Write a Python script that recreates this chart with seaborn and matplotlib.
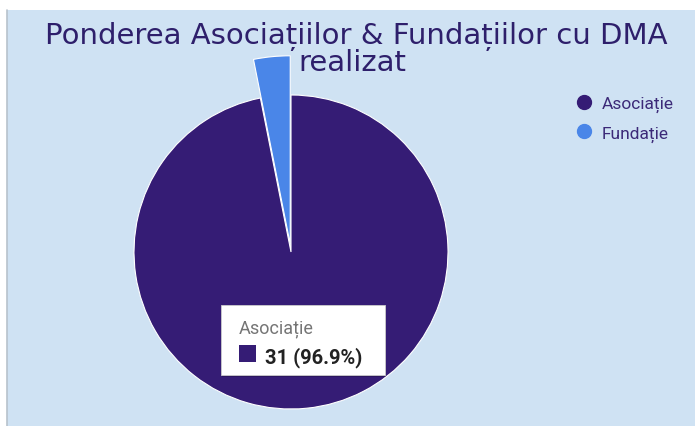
import matplotlib
matplotlib.use("Agg")
import matplotlib.pyplot as plt
import seaborn as sns
from matplotlib.patches import Rectangle
from matplotlib.lines import Line2D

# data
labels = ["Asociație", "Fundație"]
counts = [31, 1]
colors = ["#351c75", "#4a86e8"]
title_lines = ["Ponderea Asociațiilor & Fundațiilor cu DMA", "realizat"]

sns.set_theme(style="white")
pal = sns.color_palette(colors)
plt.rcParams["font.family"] = ["DejaVu Sans"]

W, H = 695, 427
fig = plt.figure(figsize=(W / 100, H / 100), dpi=100, facecolor="white")

def fx(px):
    return px / W

def fy(py):
    return 1 - py / H

# chart background (white strip top/left like the screenshot)
fig.patches.append(Rectangle((fx(7), 0), 1 - fx(7), fy(11), transform=fig.transFigure,
                             facecolor="#cfe2f3", edgecolor="none", zorder=-2))
fig.lines.append(Line2D([fx(7), fx(7)], [0, fy(11)], transform=fig.transFigure,
                        color="#b8c2cc", lw=1.2, zorder=-1))

# pie axes: centre (291, 253) px, radius 157 px
R = 157
lim = 1.3
side = 2 * lim * R
cx, cy = 291, 253
ax = fig.add_axes([fx(cx - side / 2), fy(cy + side / 2), side / W, side / H])
ax.patch.set_alpha(0)

wedges, _ = ax.pie(counts, colors=pal, startangle=90, counterclock=False,
                   explode=[0, 0.05], radius=1,
                   wedgeprops=dict(edgecolor="white", linewidth=0.8))
wedges[1].set_radius(1.2)
ax.set_xlim(-lim, lim)
ax.set_ylim(-lim, lim)
ax.set_aspect("equal")
ax.axis("off")

# title
fig.text(fx(356), fy(44), title_lines[0], ha="center", va="baseline",
         fontsize=21, color="#2e1f6b")
fig.text(fx(352), fy(71), title_lines[1], ha="center", va="baseline",
         fontsize=21, color="#2e1f6b")

# legend
handles = [Line2D([], [], marker="o", ls="none", markersize=10,
                  markerfacecolor=c, markeredgecolor=c) for c in pal]
leg = fig.legend(handles, labels, loc="upper left",
                 bbox_to_anchor=(fx(558), fy(81)), frameon=False,
                 handletextpad=0.4, labelspacing=0.75, handlelength=1.2,
                 prop={"family": "Roboto", "size": 12.5})
for t in leg.get_texts():
    t.set_color("#3c2a78")

# tooltip
fig.patches.append(Rectangle((fx(222), fy(377.5)), 164 / W, 70 / H, transform=fig.transFigure,
                             facecolor="#000000", alpha=0.18, edgecolor="none", zorder=5))
fig.patches.append(Rectangle((fx(221), fy(376)), 164 / W, 70 / H, transform=fig.transFigure,
                             facecolor="white", edgecolor="#cccccc", lw=0.6, zorder=6))
fig.text(fx(239), fy(333), labels[0], ha="left", va="baseline", fontsize=13,
         color="#757575", family="Roboto", zorder=7)
fig.patches.append(Rectangle((fx(239), fy(363)), 17 / W, 17 / H, transform=fig.transFigure,
                             facecolor=pal[0], edgecolor="none", zorder=7))
pct = counts[0] / sum(counts) * 100
fig.text(fx(265), fy(363), f"{counts[0]} ({pct:.1f}%)", ha="left", va="baseline",
         fontsize=14.5, fontweight="bold", color="#222222", family="Roboto", zorder=7)

fig.savefig("out.png", dpi=100, facecolor="white")
